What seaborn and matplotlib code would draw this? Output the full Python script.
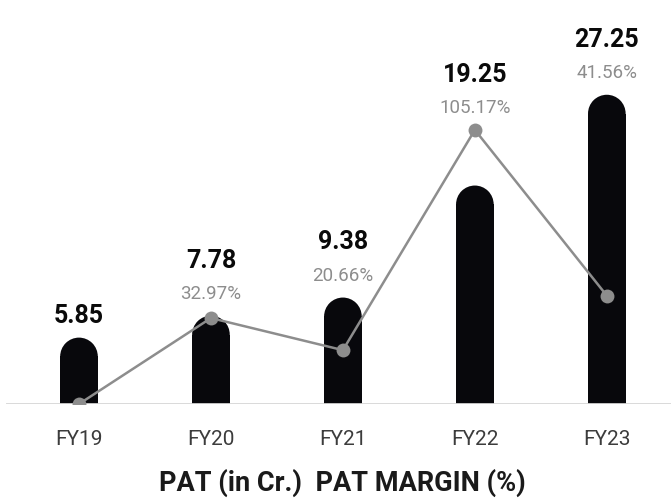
import numpy as np
import pandas as pd
import matplotlib.pyplot as plt
import seaborn as sns
from matplotlib.patches import Ellipse

# values
years = ["FY19", "FY20", "FY21", "FY22", "FY23"]
pat = [5.85, 7.78, 9.38, 19.25, 27.25]
margin = [0.0, 32.97, 20.66, 105.17, 41.56]
margin_labels = ["", "32.97%", "20.66%", "105.17%", "41.56%"]

df = pd.DataFrame({"year": years, "pat": pat, "margin": margin})

sns.set_theme(style="white")
plt.rcParams['font.family'] = ['Roboto', 'DejaVu Sans']

fig = plt.figure(figsize=(6.71, 5.03), dpi=100)
ax = fig.add_axes([6.4 / 671, 99 / 503, 673 / 671, 404 / 503])

bar_w = 0.285
sns.barplot(data=df, x="year", y="pat", color="#08080c", width=bar_w,
            saturation=1, linewidth=0, ax=ax)
ax.set_xlim(-0.55, 4.55)
ymax = 35.6
ax.set_ylim(0, ymax)

# round the bar tops
ax_h_px = 404
px_per_unit = ax_h_px / ymax
r_px = bar_w * 132 / 2
r_y = r_px / px_per_unit
for p in list(ax.patches):
    h = p.get_height()
    cx = p.get_x() + p.get_width() / 2
    p.set_height(h - r_y)
    ax.add_patch(Ellipse((cx, h - r_y), p.get_width(), 2 * r_y,
                         facecolor="#08080c", lw=0))

for s in ax.spines.values():
    s.set_visible(False)
ax.axhline(0, color="#d6d6d6", lw=2, zorder=1)
ax.set_yticks([])
ax.set_xlabel("")
ax.set_ylabel("")
ax.tick_params(axis="x", length=0, pad=19, labelsize=15, labelcolor="#3c3c3c")

# margin line on a second axis
ax2 = ax.twinx()
m_max = 155
ax2.set_ylim(0, m_max)
sns.lineplot(data=df, x="year", y="margin", color="#8d8d8d", lw=1.8,
             marker="o", markersize=10, markeredgewidth=0, ax=ax2)
ax2.set_xlim(-0.55, 4.55)
ax2.set_yticks([])
ax2.set_ylabel("")
for s in ax2.spines.values():
    s.set_visible(False)

# labels above the higher of bar and point
m_px = ax_h_px / m_max
for i in range(len(years)):
    top_px = max(pat[i] * px_per_unit, margin[i] * m_px)
    y_data = top_px / px_per_unit
    if margin_labels[i]:
        ax.annotate(margin_labels[i], (i, y_data), xytext=(0, 9),
                    textcoords="offset points", ha="center", va="bottom",
                    fontsize=13.5, color="#8d8d8d")
        off = 31
    else:
        off = 7
    ax.annotate(f"{pat[i]:.2f}", (i, y_data), xytext=(0, off),
                textcoords="offset points", ha="center", va="bottom",
                fontsize=18, fontweight="bold", color="#0a0a0a",
                annotation_clip=False)

fig.text(0.51, 0.04, "PAT (in Cr.)  PAT MARGIN (%)", ha="center",
         va="center", fontsize=19.5, fontweight="bold", color="#1a1a1a")

fig.savefig("out.png", dpi=100)
